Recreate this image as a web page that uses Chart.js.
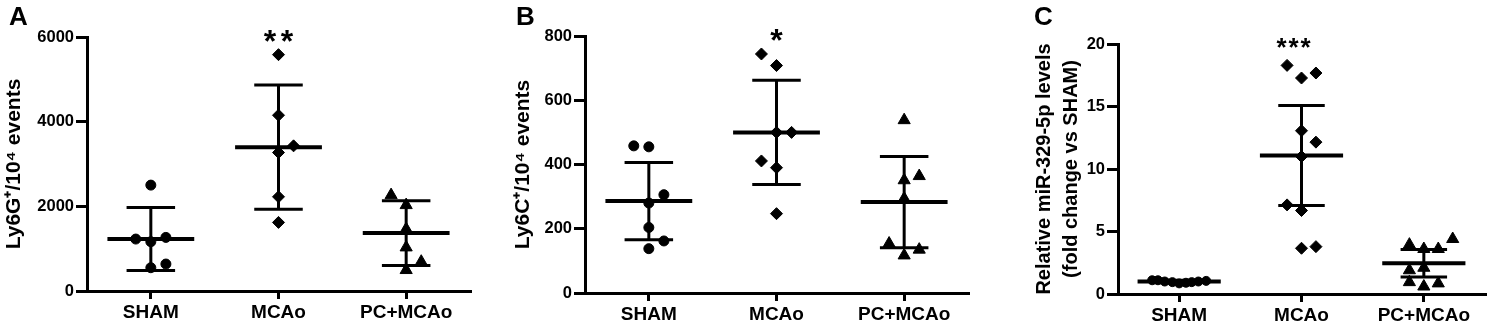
<!DOCTYPE html>
<html lang="en">
<head>
<meta charset="UTF-8">
<title>Ly6G / Ly6C / miR-329-5p</title>
<script src="https://cdn.jsdelivr.net/npm/chart.js"></script>
<style>
  body { margin: 0; background: #fff; }
  .panel { position: absolute; top: 0; height: 323px; }
</style>
</head>
<body>
<div class="panel" style="left:0;width:490px"><canvas id="chartA"></canvas></div>
<div class="panel" style="left:490px;width:500px"><canvas id="chartB"></canvas></div>
<div class="panel" style="left:990px;width:503px"><canvas id="chartC"></canvas></div>
<script>
const groups = ['SHAM', 'MCAo', 'PC+MCAo'];

// A - Ly6G+ cells per 10^4 events
const ly6gSham = [2501, 1227, 1164, 1266, 550, 637];
const ly6gMcao = [5583, 4152, 3429, 3271, 2225, 1620];
const ly6gPc = [2265, 2029, 1463, 1030, 692, 495];
const ly6gMean = [1227, 3397, 1368];
const ly6gSd = [743, 1467, 763];

// B - Ly6C+ cells per 10^4 events
const ly6cSham = [458, 455, 306, 280, 204, 162, 138];
const ly6cMcao = [744, 708, 500, 500, 411, 390, 247];
const ly6cPc = [538, 364, 351, 294, 154, 135, 117];
const ly6cMean = [286, 500, 283];
const ly6cSd = [120, 162, 142];

// C - relative miR-329-5p (fold change vs SHAM)
const mirSham = [1.1, 1.1, 1.0, 0.95, 0.85, 0.9, 0.95, 1.0, 1.05];
const mirMcao = [18.29, 17.28, 17.68, 13.06, 12.15, 11.0, 7.13, 6.68, 3.66, 3.79];
const mirPc = [3.95, 3.6, 3.6, 4.4, 1.9, 2.1, 0.95, 0.6, 0.85];
const mirMean = [1.0, 11.08, 2.46];
const mirSd = [0.1, 4.0, 1.1];

// scatter lanes (dot plot spreading), separate from the values
const lanesA = [[0, -1, 0, 1, 0, 1], [0, 0, 1, 0, 0, 0], [-1, 0, 0, 0, 1, 0]];
const lanesB = [[-1, 0, 1, 0, 0, 1, 0], [-1, 0, 0, 1, -1, 0, 0], [0, 1, 0, 0, -1, 1, 0]];
const lanesC = [[-1.87, -1.47, -1, -0.47, 0, 0.47, 0.87, 1.33, 1.87],
                [-1, 0, 1, 0, 1, 0, -1, 0, 0, 1],
                [-1, 0, 1, 2, -1, 0, -1, 0, 1]];

const FONT = "'Liberation Sans', Arial, sans-serif";
const shapes = ['circle', 'rectRot', 'triangle'];
const radii = [5, 6, 7];
const LANE = 0.118;

function seg(x1, y1, x2, y2, w) {
    return {
        data: [{x: x1, y: y1}, {x: x2, y: y2}],
        showLine: true, borderColor: '#000', borderWidth: w,
        pointRadius: 0, borderCapStyle: 'butt'
    };
}

const labelsPlugin = {
    id: 'panelLabels',
    afterDraw(chart, args, o) {
        const ctx = chart.ctx;
        ctx.save();
        ctx.fillStyle = '#000';
        ctx.font = 'bold 26px ' + FONT;
        ctx.textBaseline = 'alphabetic';
        ctx.textAlign = 'left';
        ctx.fillText(o.letter, o.letterX, 25);
        // significance stars above MCAo
        ctx.font = 'bold ' + o.starSize + 'px ' + FONT;
        ctx.textAlign = 'center';
        const m = ctx.measureText('*');
        const yc = chart.chartArea.top - 1 + (m.actualBoundingBoxAscent - m.actualBoundingBoxDescent) / 2;
        const xc = chart.scales.x.getPixelForValue(2) + (o.starDx || 0);
        for (let i = 0; i < o.stars; i++) {
            ctx.fillText('*', xc + (i - (o.stars - 1) / 2) * o.starGap, yc);
        }
        ctx.restore();
    }
};

function makePanel(id, p) {
    const datasets = [];
    p.values.forEach((vals, g) => {
        datasets.push({
            data: vals.map((v, k) => ({x: g + 1 + p.lanes[g][k] * LANE, y: v})),
            pointStyle: shapes[g], pointRadius: radii[g] * (p.scaleDots ? p.scaleDots[g] : 1),
            backgroundColor: '#000', borderColor: '#000', borderWidth: 1
        });
        const c = g + 1, m = p.means[g], sd = p.sds[g];
        datasets.push(seg(c - 0.34, m, c + 0.34, m, 4));
        datasets.push(seg(c, m - sd, c, m + sd, 3));
        datasets.push(seg(c - 0.19, m + sd, c + 0.19, m + sd, 3));
        datasets.push(seg(c - 0.19, m - sd, c + 0.19, m - sd, 3));
    });

    new Chart(document.getElementById(id), {
        type: 'scatter',
        data: { datasets },
        options: {
            responsive: true, maintainAspectRatio: false, animation: false,
            events: [],
            layout: { padding: { top: p.area.top, right: p.width - p.area.right, left: 0, bottom: 0 } },
            plugins: {
                legend: { display: false }, tooltip: { enabled: false },
                panelLabels: { letter: p.letter, letterX: p.letterX, stars: p.stars, starSize: p.starSize,
                               starGap: p.starGap, starDx: p.starDx }
            },
            scales: {
                x: {
                    type: 'linear', min: 0.5, max: 3.5,
                    afterBuildTicks: s => { s.ticks = [1, 2, 3].map(v => ({value: v})); },
                    afterFit: s => { s.height = 323 - p.area.bottom; },
                    ticks: {
                        callback: v => groups[v - 1], color: '#000', padding: 2,
                        maxRotation: 0, autoSkip: false,
                        font: { family: FONT, size: 19, weight: 'bold' }
                    },
                    grid: { drawOnChartArea: false, drawTicks: true, tickLength: 8, color: '#000', lineWidth: 3 },
                    border: { display: true, color: '#000', width: 3 }
                },
                y: {
                    min: 0, max: p.yMax,
                    afterFit: s => { s.width = p.area.left; },
                    ticks: {
                        stepSize: p.yStep, callback: v => String(v), color: '#000', padding: 2,
                        font: { family: FONT, size: 16.5, weight: 'bold' }
                    },
                    grid: { drawOnChartArea: false, drawTicks: true, tickLength: 11, color: '#000', lineWidth: 3 },
                    border: { display: true, color: '#000', width: 3 },
                    title: {
                        display: true, text: p.title, color: '#000',
                        padding: { top: p.titlePad, bottom: 0 },
                        font: { family: FONT, size: p.titleSize, weight: 'bold', lineHeight: p.titleLH || 1.2 }
                    }
                }
            }
        },
        plugins: [labelsPlugin]
    });
}

makePanel('chartA', {
    width: 490, area: { left: 87, top: 37, right: 470, bottom: 291 },
    values: [ly6gSham, ly6gMcao, ly6gPc], lanes: lanesA, means: ly6gMean, sds: ly6gSd,
    yMax: 6000, yStep: 2000, title: 'Ly6G\u207A/10\u2074 events', titlePad: 2, titleSize: 21,
    letter: 'A', letterX: 9, stars: 2, starSize: 32, starGap: 17
});
makePanel('chartB', {
    width: 500, area: { left: 95, top: 36, right: 478, bottom: 293 },
    values: [ly6cSham, ly6cMcao, ly6cPc], lanes: lanesB, means: ly6cMean, sds: ly6cSd,
    yMax: 800, yStep: 200, title: 'Ly6C\u207A/10\u2074 events', titlePad: 21, titleSize: 21,
    letter: 'B', letterX: 26, stars: 1, starSize: 32, starGap: 17
});
makePanel('chartC', {
    width: 503, area: { left: 128, top: 44, right: 503, bottom: 294 },
    values: [mirSham, mirMcao, mirPc], lanes: lanesC, means: mirMean, sds: mirSd,
    yMax: 20, yStep: 5, title: ['Relative miR-329-5p levels', '(fold change vs SHAM)'],
    titlePad: 41, titleLH: 1.35, titleSize: 20, scaleDots: [0.9, 1, 1],
    letter: 'C', letterX: 44, stars: 3, starSize: 26, starGap: 12, starDx: -8
});
</script>
</body>
</html>
